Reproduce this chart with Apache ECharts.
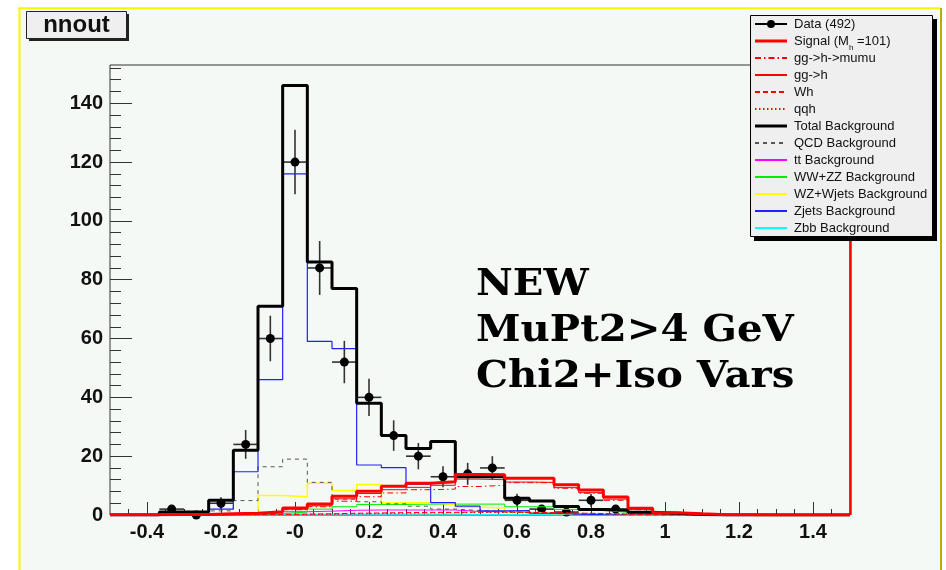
<!DOCTYPE html>
<html>
<head>
<meta charset="utf-8">
<script src="https://cdn.jsdelivr.net/npm/echarts@6/dist/echarts.min.js"></script>
<style>
html, body { margin: 0; padding: 0; background: #ffffff; }
#chart { width: 946px; height: 570px; }
</style>
</head>
<body>
<div id="chart"></div>
<script>
// nnout distribution: 30 bins between -0.5 and 1.5
const binLow = -0.5;
const binHigh = 1.5;
const nBins = 30;

// observed events per bin (null = bin not drawn)
const dataCounts = [null, null, 2, 0, 4, 24, 60, 120, 84, 52, 40, 27, 20, 13, 14, 16, 5, 2, 1, 5, 2, null, null, null, null, null, null, null, null, null];

// signal and its components
const signalTotal = [0.05, 0.05, 0.2, 0.2, 0.4, 0.6, 1.1, 2.4, 3.7, 6.4, 8.1, 9.8, 10.8, 11.3, 13.8, 13.7, 12.5, 12.5, 10.3, 8.5, 6.1, 2.3, 0.8, 0.4, 0.1, 0.05, 0, 0, 0, 0];
const ggHmumu = [0, 0, 0.1, 0.1, 0.3, 0.4, 0.8, 1.8, 2.8, 4.7, 6.2, 7.5, 8.6, 8.8, 9.7, 10.1, 11, 11, 9.1, 7.4, 5, 1.8, 0.6, 0.3, 0.1, 0, 0, 0, 0, 0];
const ggH = [0, 0, 0.1, 0.2, 0.3, 0.5, 0.9, 2.0, 3.1, 5.5, 7.3, 8.6, 9.4, 10.1, 12.2, 12.0, 11.2, 11.1, 9.3, 7.6, 5.4, 2.0, 0.7, 0.3, 0.1, 0, 0, 0, 0, 0];
const wh = [0, 0, 0, 0, 0.1, 0.1, 0.2, 0.3, 0.4, 0.6, 0.7, 0.8, 0.9, 0.9, 1.0, 1.0, 0.9, 0.8, 0.6, 0.5, 0.3, 0.1, 0, 0, 0, 0, 0, 0, 0, 0];
const qqh = [0, 0, 0, 0, 0, 0.1, 0.1, 0.2, 0.3, 0.4, 0.5, 0.6, 0.7, 0.8, 0.8, 0.9, 0.8, 0.7, 0.6, 0.5, 0.3, 0.1, 0, 0, 0, 0, 0, 0, 0, 0];

// backgrounds
const totalBkg = [0, 0, 1, 1, 5, 22, 71, 146, 86, 77, 38, 27, 22.6, 25, 13, 13, 5.7, 4.8, 2.9, 1.9, 1.6, 0.9, 0.6, 0.2, 0, 0, 0, 0, 0, 0];
const qcdBkg = [0, 0, 0.3, 0.3, 1.4, 4.9, 16.4, 19, 11.1, 5.4, 4.5, 3.8, 3.0, 2.0, 1.5, 1.2, 0.8, 0.5, 0.3, 0.1, 0, 0, 0, 0, 0, 0, 0, 0, 0, 0];
const ttBkg = [0, 0, 0, 0, 0, 0.2, 0.4, 1.1, 1.3, 1.6, 1.7, 1.7, 1.7, 1.7, 1.2, 1.1, 0.8, 0.6, 0.4, 0.3, 0.2, 0.1, 0, 0, 0, 0, 0, 0, 0, 0];
const wwzzBkg = [0, 0, 0, 0, 0, 0.2, 0.5, 1.0, 2.0, 2.8, 3.6, 3.6, 3.7, 3.7, 3.7, 3.7, 2.8, 2.8, 1.9, 1.5, 0.9, 0.4, 0.2, 0, 0, 0, 0, 0, 0, 0];
const wzWjetsBkg = [0.1, 0.1, 0.3, 0.3, 0.4, 0.4, 6.6, 6.2, 10.8, 8.3, 10.4, 4.2, 4.2, 3.6, 2.6, 2.4, 1.0, 0.5, 0.3, 0.2, 0, 0, 0, 0, 0, 0, 0, 0, 0, 0];
const zjetsBkg = [0, 0, 0, 0.9, 2.0, 14.7, 46, 116, 59, 56.6, 17, 16.1, 10.5, 4.2, 3.0, 1.4, 1.5, 0.6, 0.3, 0.1, 0, 0, 0, 0, 0, 0, 0, 0, 0, 0];
const zbbBkg = [0, 0, 0, 0, 0.1, 0.2, 0.3, 0.3, 0.3, 0.3, 0.3, 0.3, 0.3, 0.3, 0.2, 0.2, 0.2, 0.1, 0.1, 0.1, 0, 0, 0, 0, 0, 0, 0, 0, 0, 0];

// axis ticks
const xTickValues = [-0.4, -0.2, 0, 0.2, 0.4, 0.6, 0.8, 1, 1.2, 1.4];
const xTickLabels = ['-0.4', '-0.2', '-0', '0.2', '0.4', '0.6', '0.8', '1', '1.2', '1.4'];
const yTickValues = [0, 20, 40, 60, 80, 100, 120, 140];
const yTickLabels = ['0', '20', '40', '60', '80', '100', '120', '140'];
const yMax = 153;

const binWidth = (binHigh - binLow) / nBins;

// minor tick positions
const xMinor = [];
for (let i = -9; i < 30; i++) {
  if (i % 4 !== 0) xMinor.push(Math.round(i * 0.05 * 1000) / 1000);
}
const yMinor = [];
for (let v = 4; v < yMax; v += 4) {
  if (v % 20 !== 0) yMinor.push(v);
}

// histogram outline: value held across each bin
function histPoints(values) {
  const pts = values.map((v, i) => [binLow + i * binWidth, v]);
  pts.push([binHigh, values[values.length - 1]]);
  return pts;
}

function histSeries(name, values, color, width, type) {
  return {
    name: name,
    type: 'line',
    step: 'end',
    symbol: 'none',
    data: histPoints(values),
    lineStyle: { color: color, width: width, type: type },
    itemStyle: { color: color },
    silent: true,
    animation: false,
    z: 2
  };
}

function lookupLabel(values, labels, v) {
  for (let i = 0; i < values.length; i++) {
    if (Math.abs(values[i] - v) < 1e-6) return labels[i];
  }
  return '';
}

const dataPoints = [];
dataCounts.forEach((c, i) => {
  if (c !== null) dataPoints.push([binLow + (i + 0.5) * binWidth, c]);
});

// line styles shared by the histograms and the key
const styles = {
  data:   { label: 'Data (492)', color: '#000000', width: 1, dash: null, marker: true },
  signal: { label: 'Signal (M{sub|h} =101)', color: '#ff0000', width: 3, dash: null },
  ggmumu: { label: 'gg->h->mumu', color: '#ff0000', width: 1, dash: [6, 3, 1.5, 3] },
  ggh:    { label: 'gg->h', color: '#ff0000', width: 1, dash: null },
  wh:     { label: 'Wh', color: '#ff0000', width: 1, dash: [5, 3] },
  qqh:    { label: 'qqh', color: '#ff0000', width: 1, dash: [1.5, 2.5] },
  total:  { label: 'Total Background', color: '#000000', width: 3, dash: null },
  qcd:    { label: 'QCD Background', color: '#555555', width: 1, dash: [4, 4] },
  tt:     { label: 'tt Background', color: '#ff00ff', width: 1, dash: null },
  wwzz:   { label: 'WW+ZZ Background', color: '#00ee00', width: 1, dash: null },
  wzw:    { label: 'WZ+Wjets Background', color: '#ffff00', width: 1.5, dash: null },
  zjets:  { label: 'Zjets Background', color: '#2020ff', width: 1.2, dash: null },
  zbb:    { label: 'Zbb Background', color: '#00ffff', width: 1, dash: null }
};
const keyOrder = ['data', 'signal', 'ggmumu', 'ggh', 'wh', 'qqh', 'total', 'qcd', 'tt', 'wwzz', 'wzw', 'zjets', 'zbb'];

function styledSeries(key, values) {
  const s = styles[key];
  return histSeries(s.label, values, s.color, s.width, s.dash || 'solid');
}

// key box contents
const keyLeft = 755, keyTop = 23.5, keyPitch = 17.08, keyLineLen = 32;
const keyElements = [];
keyOrder.forEach((key, n) => {
  const s = styles[key];
  const y = Math.round(keyTop + n * keyPitch);
  const lineStyle = { stroke: s.color, lineWidth: Math.max(s.width, 2) };
  if (s.dash) lineStyle.lineDash = s.dash;
  keyElements.push({ type: 'line', silent: true, z: 4, shape: { x1: keyLeft, y1: y, x2: keyLeft + keyLineLen, y2: y }, style: lineStyle });
  if (s.marker) {
    keyElements.push({ type: 'circle', silent: true, z: 4, shape: { cx: keyLeft + keyLineLen / 2, cy: y, r: 4 }, style: { fill: '#000' } });
  }
  keyElements.push({
    type: 'text', silent: true, z: 4, x: keyLeft + keyLineLen + 7, y: y,
    style: {
      text: s.label, font: '13px "Liberation Sans"', fill: '#111', verticalAlign: 'middle',
      rich: { sub: { fontSize: 8, fontFamily: 'Liberation Sans', fill: '#111', padding: [14, 0, 0, 0] } }
    }
  });
});

const chart = echarts.init(document.getElementById('chart'), null, { renderer: 'canvas' });

const labelFont = { fontFamily: 'Liberation Sans', fontWeight: 'bold', fontSize: 20, color: '#111' };

const signalSeries = styledSeries('signal', signalTotal);
signalSeries.markLine = {
  silent: true,
  symbol: 'none',
  z: 2,
  label: { show: false },
  lineStyle: { color: '#ff0000', width: 2.5, type: 'solid' },
  data: [{ xAxis: binHigh }],
  animation: false
};

const axisCommon = {
  axisLine: { show: false, onZero: false },
  splitLine: { show: false }
};

const option = {
  animation: false,
  backgroundColor: 'transparent',
  grid: {
    left: 110, top: 65, right: 96, bottom: 55,
    show: true, borderColor: '#333', borderWidth: 1, backgroundColor: 'transparent'
  },
  xAxis: [
    Object.assign({
      type: 'value', min: binLow, max: binHigh, position: 'bottom',
      axisTick: { show: true, inside: true, length: 13, customValues: xTickValues, lineStyle: { color: '#333', width: 1 } },
      axisLabel: Object.assign({ customValues: xTickValues, margin: 7,
        formatter: v => lookupLabel(xTickValues, xTickLabels, v) }, labelFont)
    }, axisCommon),
    Object.assign({
      type: 'value', min: binLow, max: binHigh, position: 'bottom',
      axisTick: { show: true, inside: true, length: 6, customValues: xMinor, lineStyle: { color: '#333', width: 1 } },
      axisLabel: { show: false }
    }, axisCommon)
  ],
  yAxis: [
    Object.assign({
      type: 'value', min: 0, max: yMax, position: 'left',
      axisTick: { show: true, inside: true, length: 22, customValues: yTickValues, lineStyle: { color: '#333', width: 1 } },
      axisLabel: Object.assign({ customValues: yTickValues, margin: 7,
        formatter: v => lookupLabel(yTickValues, yTickLabels, v) }, labelFont)
    }, axisCommon),
    Object.assign({
      type: 'value', min: 0, max: yMax, position: 'left',
      axisTick: { show: true, inside: true, length: 11, customValues: yMinor, lineStyle: { color: '#333', width: 1 } },
      axisLabel: { show: false }
    }, axisCommon)
  ],
  graphic: [
    { type: 'rect', silent: true, z: -30, shape: { x: 0, y: 0, width: 946, height: 570 }, style: { fill: '#ffffff' } },
    { type: 'rect', silent: true, z: -29, shape: { x: 20, y: 8, width: 921, height: 570 }, style: { fill: '#f5f9f6' } },
    { type: 'line', silent: true, z: -28, shape: { x1: 18, y1: 8.3, x2: 941, y2: 8.3 }, style: { stroke: '#f6f600', lineWidth: 2 } },
    { type: 'line', silent: true, z: -28, shape: { x1: 19.5, y1: 8, x2: 19.5, y2: 570 }, style: { stroke: '#f6f600', lineWidth: 2 } },
    { type: 'line', silent: true, z: -28, shape: { x1: 941, y1: 8, x2: 941, y2: 570 }, style: { stroke: '#b8b000', lineWidth: 2 } },
    // title box
    { type: 'rect', silent: true, z: 6, shape: { x: 29, y: 14, width: 100, height: 27 }, style: { fill: '#222' } },
    { type: 'rect', silent: true, z: 6, shape: { x: 26.5, y: 11.5, width: 100, height: 27 }, style: { fill: '#efefef', stroke: '#222', lineWidth: 1 } },
    { type: 'text', silent: true, z: 7, x: 76.5, y: 25.5, style: { text: 'nnout', font: 'bold 24px "Liberation Sans"', fill: '#111', align: 'center', verticalAlign: 'middle' } },
    // key frame
    { type: 'rect', silent: true, z: 3, shape: { x: 754, y: 19, width: 183, height: 222 }, style: { fill: '#000' } },
    { type: 'rect', silent: true, z: 3, shape: { x: 750.5, y: 15.5, width: 182, height: 221 }, style: { fill: '#efefef', stroke: '#000', lineWidth: 1 } },
    // selection note
    { type: 'text', silent: true, z: 3, x: 476, y: 262, scaleX: 1.06, style: { text: 'NEW\nMuPt2>4 GeV\nChi2+Iso Vars', font: 'bold 38px "DejaVu Serif"', lineHeight: 46, fill: '#000' } }
  ].concat(keyElements),
  series: [
    styledSeries('zbb', zbbBkg),
    styledSeries('tt', ttBkg),
    styledSeries('wwzz', wwzzBkg),
    styledSeries('wzw', wzWjetsBkg),
    styledSeries('qcd', qcdBkg),
    styledSeries('zjets', zjetsBkg),
    styledSeries('qqh', qqh),
    styledSeries('wh', wh),
    styledSeries('ggmumu', ggHmumu),
    styledSeries('ggh', ggH),
    styledSeries('total', totalBkg),
    signalSeries,
    {
      name: 'Data (492)',
      type: 'custom',
      data: dataPoints,
      itemStyle: { color: '#000' },
      silent: true,
      animation: false,
      z: 2,
      renderItem: function (params, api) {
        const x = api.value(0);
        const y = api.value(1);
        const err = Math.sqrt(y);
        const c = api.coord([x, y]);
        const l = api.coord([x - binWidth / 2, y]);
        const r = api.coord([x + binWidth / 2, y]);
        const children = [
          { type: 'line', shape: { x1: l[0], y1: c[1], x2: r[0], y2: c[1] }, style: { stroke: '#333', lineWidth: 1.6 } }
        ];
        if (err > 0) {
          const lo = api.coord([x, y - err]);
          const hi = api.coord([x, y + err]);
          children.push({ type: 'line', shape: { x1: c[0], y1: lo[1], x2: c[0], y2: hi[1] }, style: { stroke: '#333', lineWidth: 1.6 } });
        }
        children.push({ type: 'circle', shape: { cx: c[0], cy: c[1], r: 4.5 }, style: { fill: '#000' } });
        return { type: 'group', children: children };
      }
    }
  ]
};

chart.setOption(option);
</script>
</body>
</html>
